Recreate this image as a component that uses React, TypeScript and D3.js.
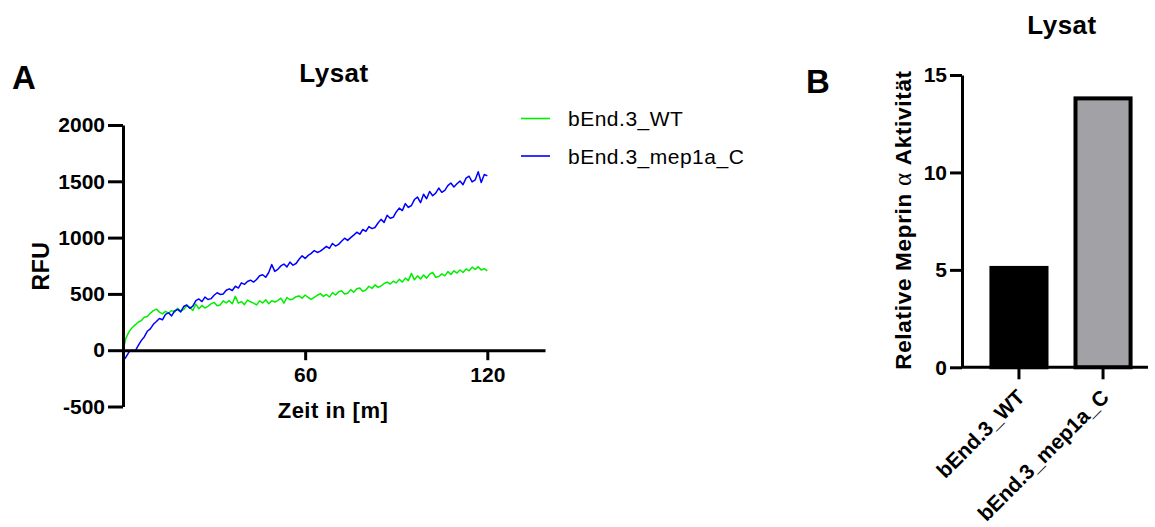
import React, { useEffect, useRef } from 'react';
import * as d3 from 'd3';

// Messintervall (Minuten) der Kinetik
const SAMPLE_MIN = 1;

// RFU-Werte, t = 0 ... 120 min
const wtRFU = [
  0, 110, 165, 200, 225, 248, 262, 292, 300, 328,
  352, 365, 338, 322, 345, 330, 352, 340, 372, 348,
  362, 395, 380, 352, 410, 368, 398, 375, 390, 412,
  425, 395, 402, 438, 420, 440, 412, 478, 418, 432,
  405, 445, 430, 418, 402, 438, 420, 448, 412, 440,
  428, 440, 462, 418, 468, 448, 455, 475, 482, 462,
  490, 468, 452, 470, 488, 502, 478, 495, 472, 512,
  490, 518, 528, 500, 505, 538, 515, 545, 552, 522,
  535, 568, 548, 580, 558, 570, 592, 605, 588, 612,
  598, 630, 605, 640, 618, 682, 625, 660, 632, 668,
  640, 675, 690, 648, 655, 678, 660, 698, 672, 705,
  685, 712, 690, 722, 705, 738, 718, 740, 712, 725,
  705,
];

const mepRFU = [
  -95, -60, -15, 0, -8, 40, 85, 118, 168, 190,
  230, 255, 282, 270, 318, 332, 305, 348, 362, 340,
  388, 402, 372, 392, 440, 455, 432, 472, 450, 458,
  488, 510, 495, 500, 532, 545, 530, 568, 552, 598,
  585, 610, 622, 605, 628, 662, 670, 648, 690, 760,
  700, 718, 748, 765, 740, 782, 755, 770, 808, 838,
  815, 842, 860, 885, 868, 880, 900, 922, 905, 948,
  925, 940, 968, 995, 975, 1000, 1022, 1048, 1030, 1072,
  1055, 1098, 1080, 1090, 1130, 1162, 1135, 1198, 1172, 1180,
  1228, 1262, 1240, 1302, 1268, 1285, 1338, 1360, 1310, 1385,
  1345, 1410, 1372, 1395, 1440, 1402, 1420, 1462, 1485, 1450,
  1478, 1502, 1470, 1528, 1545, 1495, 1512, 1585, 1490, 1560,
  1548,
];

const seriesNames = ['bEnd.3_WT', 'bEnd.3_mep1a_C'];
const seriesColors = ['#00ee00', '#0000ff'];

const rfuTicks = [-500, 0, 500, 1000, 1500, 2000];
const timeTicks = [60, 120];

// Panel B
const barCategories = ['bEnd.3_WT', 'bEnd.3_mep1a_C'];
const barValues = [5.1, 13.8];
const barFills = ['#000000', '#a2a2a6'];
const activityTicks = [0, 5, 10, 15];

const FONT = "Arial, 'Liberation Sans', sans-serif";

const App = () => {
  const ref = useRef<SVGSVGElement>(null);

  useEffect(() => {
    const svg = d3.select(ref.current);
    svg.selectAll('*').remove();

    const styleAxis = (g: any, size: number) => {
      g.select('.domain').attr('stroke', '#000').attr('stroke-width', 3);
      g.selectAll('.tick line').attr('stroke', '#000').attr('stroke-width', 3);
      g.selectAll('.tick text')
        .attr('fill', '#000')
        .style('font-family', FONT)
        .style('font-weight', 'bold')
        .style('font-size', size + 'px');
    };

    // ---------- Panel A ----------
    const x = d3.scaleLinear().domain([0, 139]).range([123, 545]);
    const y = d3.scaleLinear().domain([-500, 2000]).range([406.5, 125]);

    const line = d3.line<number>()
      .x((d, i) => x(i * SAMPLE_MIN))
      .y(d => y(d));

    [wtRFU, mepRFU].forEach((s, k) => {
      svg.append('path')
        .attr('d', line(s))
        .attr('fill', 'none')
        .attr('stroke', seriesColors[k])
        .attr('stroke-width', 1.5)
        .attr('stroke-linejoin', 'round');
    });

    const yAxisA = svg.append('g')
      .attr('transform', `translate(${x(0)},0)`)
      .call(d3.axisLeft(y).tickValues(rfuTicks).tickFormat(d => String(d))
        .tickSize(15).tickPadding(3).tickSizeOuter(0));
    styleAxis(yAxisA, 21);

    const xAxisA = svg.append('g')
      .attr('transform', `translate(0,${y(0)})`)
      .call(d3.axisBottom(x).tickValues(timeTicks).tickFormat(d => String(d))
        .tickSize(10).tickPadding(7).tickSizeOuter(0));
    styleAxis(xAxisA, 21);

    // Titel, Achsentitel
    const label = (tx: string, px: number, py: number, size: number, opts: any = {}) =>
      svg.append('text')
        .attr('x', px).attr('y', py)
        .attr('text-anchor', opts.anchor || 'middle')
        .attr('transform', opts.rotate ? `rotate(${opts.rotate},${px},${py})` : null)
        .style('font-family', FONT)
        .style('font-weight', opts.weight || 'bold')
        .style('font-size', size + 'px')
        .style('letter-spacing', (opts.ls ?? 0.5) + 'px')
        .attr('fill', '#000')
        .text(tx);

    label('A', 12, 89, 33, { anchor: 'start', ls: 0 });
    label('Lysat', 334, 82, 26);
    label('Zeit in [m]', 333, 418, 22);
    label('RFU', 49, 266, 23, { rotate: -90 });

    // Legende
    seriesNames.forEach((name, k) => {
      const ly = 118.5 + k * 37.5;
      svg.append('line')
        .attr('x1', 521).attr('x2', 550)
        .attr('y1', ly).attr('y2', ly)
        .attr('stroke', seriesColors[k])
        .attr('stroke-width', 1.6);
      label(name, 568, ly + 7.5, 21, { anchor: 'start', weight: 'normal', ls: 0.5 });
    });

    // ---------- Panel B ----------
    const yB = d3.scaleLinear().domain([0, 15]).range([367.3, 75]);
    const xB = d3.scaleBand().domain(barCategories).range([962, 1160])
      .paddingInner(0.345).paddingOuter(0.35);

    svg.selectAll('.bar')
      .data(barValues)
      .enter()
      .append('rect')
      .attr('class', 'bar')
      .attr('x', (d, i) => xB(barCategories[i])!)
      .attr('y', d => yB(d))
      .attr('width', xB.bandwidth())
      .attr('height', d => yB(0) - yB(d))
      .attr('fill', (d, i) => barFills[i])
      .attr('stroke', '#000')
      .attr('stroke-width', 4);

    const yAxisB = svg.append('g')
      .attr('transform', `translate(962,0)`)
      .call(d3.axisLeft(yB).tickValues(activityTicks).tickFormat(d => String(d))
        .tickSize(12).tickPadding(3).tickSizeOuter(0));
    styleAxis(yAxisB, 21);

    // x-Achse B
    svg.append('line')
      .attr('x1', 962).attr('x2', 1148)
      .attr('y1', yB(0)).attr('y2', yB(0))
      .attr('stroke', '#000').attr('stroke-width', 3);

    barCategories.forEach(c => {
      const cx = xB(c)! + xB.bandwidth() / 2;
      svg.append('line')
        .attr('x1', cx).attr('x2', cx)
        .attr('y1', yB(0)).attr('y2', yB(0) + 12)
        .attr('stroke', '#000').attr('stroke-width', 3);
      svg.append('text')
        .attr('transform', `translate(${cx + 2},${yB(0) + 26}) rotate(-45)`)
        .attr('text-anchor', 'end')
        .attr('dy', '0.35em')
        .style('font-family', FONT)
        .style('font-weight', 'bold')
        .style('font-size', '21px')
        .attr('fill', '#000')
        .text(c);
    });

    label('B', 806, 93, 33, { anchor: 'start', ls: 0 });
    label('Lysat', 1062, 34, 26);

    const yl = svg.append('text')
      .attr('transform', `translate(911,220) rotate(-90)`)
      .attr('text-anchor', 'middle')
      .style('font-family', FONT)
      .style('font-weight', 'bold')
      .style('font-size', '22.5px')
      .style('letter-spacing', '0.7px')
      .attr('fill', '#000');
    yl.append('tspan').text('Relative Meprin ');
    yl.append('tspan')
      .style('font-family', "'Liberation Serif', 'DejaVu Serif', serif")
      .style('font-weight', 'normal')
      .style('font-size', '25px')
      .text('α');
    yl.append('tspan').text(' Aktivität');
  }, []);

  return (
    <div style={{ position: 'absolute', left: 0, top: 0, background: '#fff' }}>
      <svg ref={ref} width={1155} height={527} style={{ display: 'block' }} />
    </div>
  );
};

export default App;
